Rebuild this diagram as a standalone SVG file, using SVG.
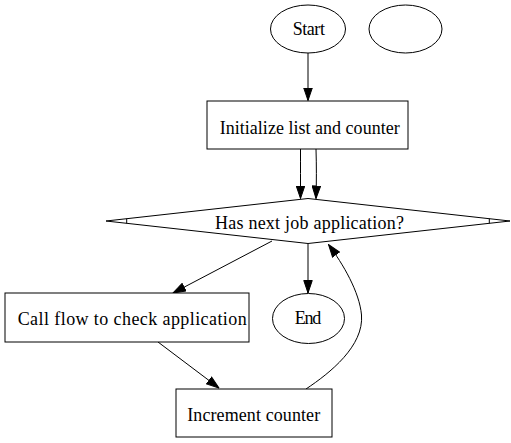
<svg xmlns="http://www.w3.org/2000/svg" width="511" height="443" viewBox="0 0 511 443">
<style>
.n{fill:#fff;stroke:#000;stroke-width:1}
.t{font-family:"Liberation Serif","Times New Roman",serif;font-size:18px;text-anchor:middle;fill:#000}
.e{fill:none;stroke:#000;stroke-width:1}
</style>
<defs>
<marker id="ah" viewBox="0 0 13.5 9.5" refX="13" refY="4.75" markerWidth="13.5" markerHeight="9.5" markerUnits="userSpaceOnUse" orient="auto">
<path d="M0.5,0.5 L13,4.75 L0.5,9 z" fill="#000" stroke="#000" stroke-width="1"/>
</marker>
</defs>
<rect width="511" height="443" fill="#fff"/>
<g id="connectors">
<path class="e" marker-end="url(#ah)" d="M308,53 L308,100.5"/>
<path class="e" marker-end="url(#ah)" d="M300.5,149 C300.5,165 300.5,182 300.5,198.5"/>
<path class="e" marker-end="url(#ah)" d="M316,149 C316.5,165 316.5,182 316,198.5"/>
<path class="e" marker-end="url(#ah)" d="M272,241 L173,293"/>
<path class="e" marker-end="url(#ah)" d="M308,244 L308,293"/>
<path class="e" marker-end="url(#ah)" d="M158,342 L219,388"/>
<path class="e" marker-end="url(#ah)" d="M306,389 C330,373 364,346 361.5,315 C359.5,292 343,264 328.5,244.5"/>
</g>
<g id="start">
<ellipse class="n" cx="308" cy="29" rx="37.5" ry="24"/>
<text class="t" x="308.8" y="35" textLength="32.3">Start</text>
</g>
<g id="empty">
<ellipse class="n" cx="405.5" cy="29" rx="36.5" ry="24"/>
</g>
<g id="init">
<rect class="n" x="207" y="101" width="201" height="48"/>
<text class="t" x="309.7" y="133.5" textLength="180">Initialize list and counter</text>
</g>
<g id="decision">
<polygon class="n" points="106,221 308,198.5 510,221 308,243.5"/>
<path class="e" d="M126.7,218.7 L126.7,223.3 M489.3,218.7 L489.3,223.3"/>
<text class="t" x="309.5" y="228.5" textLength="189">Has next job application?</text>
</g>
<g id="call">
<rect class="n" x="5" y="293" width="244" height="49"/>
<text class="t" x="132.2" y="325" textLength="229">Call flow to check application</text>
</g>
<g id="end">
<ellipse class="n" cx="308.5" cy="318.5" rx="36" ry="25"/>
<text class="t" x="308" y="324" textLength="26.6">End</text>
</g>
<g id="increment">
<rect class="n" x="176" y="389" width="156" height="48"/>
<text class="t" x="253.7" y="420.5" textLength="133">Increment counter</text>
</g>
</svg>
